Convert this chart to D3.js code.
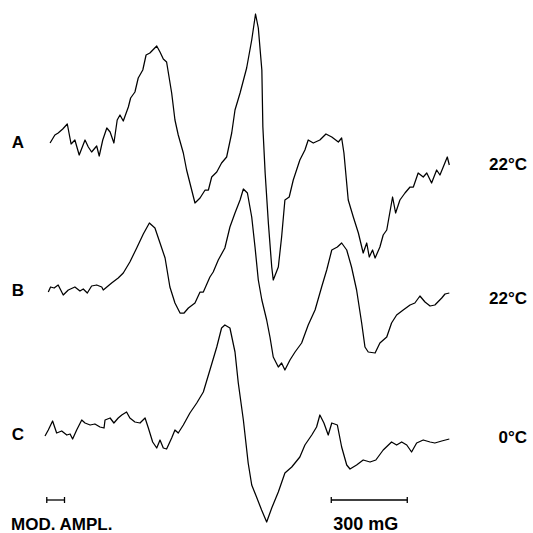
<!DOCTYPE html>
<html>
<head>
<meta charset="utf-8">
<script src="https://cdn.jsdelivr.net/npm/d3@7"></script>
<style>
  body { margin: 0; background: #fff; }
  text { font-family: "Liberation Sans", Arial, sans-serif; font-weight: bold; fill: #000; }
</style>
</head>
<body>
<script>
// field in mG (relative), signal in arbitrary units (derivative)
var fieldA = [20,39,52,70,88,103,118,135,158,171,184,204,214,228,244,257,272,285,296,309,329,338,355,368,386,399,414,441,454,467,480,500,513,526,546,559,579,592,612,632,645,658,678,697,717,737,750,770,796,816,831,842,856,860,869,882,895,901,921,934,947,964,980,1006,1026,1039,1059,1085,1109,1132,1158,1171,1180,1197,1217,1237,1256,1270,1280,1293,1303,1322,1335,1349,1372,1384,1401,1421,1441,1454,1473,1493,1507,1526,1546,1559,1572,1588,1596];
var signalA = [-1,7,9,13,18,-2,2,-13,2,-5,-10,-4,-14,2,14,10,-1,22,27,21,35,44,50,64,72,87,89,96,90,83,80,49,22,7,-11,-28,-48,-61,-56,-48,-48,-35,-30,-21,-15,9,32,49,74,102,128,114,72,15,-31,-82,-125,-138,-125,-95,-58,-55,-38,-18,-8,2,-1,2,8,5,0,4,-11,-58,-75,-91,-111,-101,-115,-108,-116,-105,-93,-88,-55,-71,-58,-51,-45,-45,-31,-35,-31,-41,-28,-33,-25,-15,-23];

var fieldB = [13,22,36,52,72,92,118,138,151,167,184,204,224,230,263,289,309,335,362,388,412,434,454,474,493,513,533,549,566,592,612,625,651,664,684,710,730,750,770,783,799,816,829,842,856,875,888,901,921,934,947,967,987,1013,1039,1066,1092,1112,1132,1154,1171,1191,1210,1230,1250,1263,1276,1303,1322,1349,1368,1388,1414,1441,1460,1480,1500,1520,1539,1566,1579,1596];
var signalB = [-2,3,2,5,-5,0,3,-1,1,-3,4,5,3,0,7,12,17,28,42,56,67,62,47,32,3,-13,-23,-23,-18,-13,-2,-2,13,18,30,42,63,77,90,101,97,73,43,10,-10,-30,-47,-67,-77,-73,-80,-70,-62,-53,-35,-20,3,20,40,43,47,40,23,0,-33,-57,-62,-63,-53,-47,-33,-25,-20,-15,-13,-6,-12,-16,-15,-8,-4,-3];

var fieldC = [0,13,30,46,66,86,99,109,125,145,158,178,197,217,233,237,257,272,289,303,322,335,355,375,395,408,425,441,454,467,480,500,513,526,546,572,599,625,651,678,697,710,730,750,763,783,802,816,835,855,875,895,921,947,974,1006,1026,1053,1072,1085,1101,1118,1132,1154,1171,1191,1204,1230,1256,1283,1306,1335,1368,1388,1408,1428,1447,1467,1493,1520,1539,1566,1596];
var signalC = [-2,4,13,1,3,-1,0,-5,4,14,11,9,10,7,6,14,16,11,16,19,22,16,12,11,16,6,-8,-14,-6,-14,-15,-4,4,1,9,21,31,42,64,87,106,109,106,82,51,14,-29,-51,-63,-76,-88,-74,-58,-39,-33,-23,-11,-1,7,19,11,-1,11,9,-13,-31,-35,-31,-26,-28,-26,-16,-8,-11,-8,-11,-18,-9,-6,-8,-9,-7,-5];

var traceNames = ['A', 'B', 'C'];
var temps = ['22°C', '22°C', '0°C'];
var scaleBarField = 300;   // mG
var modAmplField = 70;     // mG

var w = 533, h = 533;
var baselines = [142, 290, 434];
var tempY = [164, 298, 437];

var svg = d3.select('body').append('svg')
  .attr('width', w).attr('height', h);

var x = d3.scaleLinear().domain([0, 1600]).range([45, 45 + 1600 * 76 / 300]);
var y = d3.scaleLinear().domain([-150, 150]).range([150, -150]);

var line = d3.line()
  .x(function (d) { return x(d[0]); })
  .y(function (d) { return y(d[1]); });

var traces = [
  d3.zip(fieldA, signalA),
  d3.zip(fieldB, signalB),
  d3.zip(fieldC, signalC)
];

var g = svg.selectAll('g.trace').data(traces)
  .enter().append('g')
  .attr('class', 'trace')
  .attr('transform', function (d, i) { return 'translate(0,' + baselines[i] + ')'; });

g.append('path')
  .attr('d', line)
  .attr('fill', 'none')
  .attr('stroke', '#000')
  .attr('stroke-width', 1.25)
  .attr('stroke-linejoin', 'round');

// trace letters and temperatures
svg.selectAll('text.name').data(traceNames)
  .enter().append('text')
  .attr('class', 'name')
  .attr('x', 18)
  .attr('y', function (d, i) { return baselines[i] + 6; })
  .attr('text-anchor', 'middle')
  .attr('font-size', '17px')
  .text(function (d) { return d; });

svg.selectAll('text.temp').data(temps)
  .enter().append('text')
  .attr('class', 'temp')
  .attr('x', 527)
  .attr('y', function (d, i) { return tempY[i] + 6; })
  .attr('text-anchor', 'end')
  .attr('font-size', '17px')
  .text(function (d) { return d; });

// scale bars
function bar(f0, f1, yy) {
  var b = svg.append('g').attr('stroke', '#000').attr('stroke-width', 1.3);
  b.append('line').attr('x1', x(f0)).attr('x2', x(f1)).attr('y1', yy).attr('y2', yy);
  b.append('line').attr('x1', x(f0)).attr('x2', x(f0)).attr('y1', yy - 3).attr('y2', yy + 3);
  b.append('line').attr('x1', x(f1)).attr('x2', x(f1)).attr('y1', yy - 3).attr('y2', yy + 3);
}
bar(7, 7 + modAmplField, 500);
bar(1130, 1130 + scaleBarField, 500);

svg.append('text')
  .attr('x', 11).attr('y', 530)
  .attr('font-size', '17px')
  .text('MOD. AMPL.');

svg.append('text')
  .attr('x', x(1130) + 2).attr('y', 530)
  .attr('font-size', '18px')
  .text(scaleBarField + ' mG');
</script>
</body>
</html>
